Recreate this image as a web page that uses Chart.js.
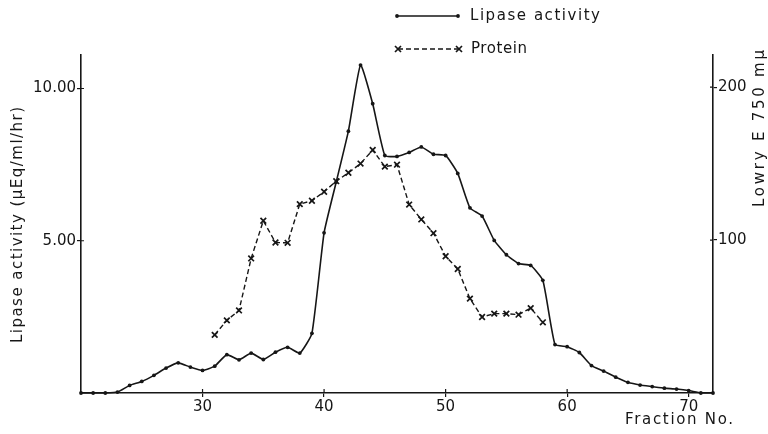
<!DOCTYPE html>
<html>
<head>
<meta charset="utf-8">
<script src="https://cdn.jsdelivr.net/npm/chart.js@4"></script>
<style>
  html, body { margin: 0; padding: 0; background: #fff; }
  #wrap { width: 768px; height: 434px; }
</style>
</head>
<body>
<div id="wrap"><canvas id="lipaseChart" width="768" height="434"></canvas></div>
<script>
// fraction numbers and values
const lipaseFractions = [20, 21, 22, 23, 24, 25, 26, 27, 28, 29, 30, 31, 32, 33, 34, 35, 36, 37, 38, 39,
    40, 41, 42, 43, 44, 45, 46, 47, 48, 49, 50, 51, 52, 53, 54, 55, 56, 57, 58, 59,
    60, 61, 62, 63, 64, 65, 66, 67, 68, 69, 70, 71, 72];
const lipaseActivity = [0, 0, 0, 0.03, 0.25, 0.38, 0.58, 0.82, 0.99, 0.85, 0.74, 0.88, 1.26, 1.09, 1.31, 1.10, 1.34, 1.50, 1.31, 1.96,
    5.26, 6.93, 8.60, 10.77, 9.50, 7.80, 7.77, 7.90, 8.08, 7.84, 7.80, 7.21, 6.08, 5.81, 5.01, 4.54, 4.25, 4.19, 3.70, 1.59,
    1.52, 1.33, 0.90, 0.72, 0.52, 0.35, 0.26, 0.21, 0.16, 0.13, 0.08, 0, 0];

const proteinFractions = [31, 32, 33, 34, 35, 36, 37, 38, 39, 40, 41, 42, 43, 44, 45, 46, 47, 48, 49, 50,
    51, 52, 53, 54, 55, 56, 57, 58];
const proteinLowry = [38, 47.5, 54, 88, 112.6, 98.4, 98.2, 123.5, 125.7, 131.6, 138.5, 144, 150, 158.9, 148, 149.3, 123.2, 113.5, 104.5, 89.4,
    81.1, 61.7, 49.7, 51.9, 51.9, 51.2, 55.5, 46.2];

const xTicks = [30, 40, 50, 60, 70];
const leftTicks = [5, 10];
const rightTicks = [100, 200];

const ink = '#161616';
const fontFamily = "'DejaVu Sans', sans-serif";

// draw text so that it spans a given length (the original uses wide letter spacing)
function fitText(ctx, text, x, y, width, angle) {
    ctx.save();
    ctx.translate(x, y);
    ctx.rotate(angle);
    ctx.letterSpacing = '0px';
    const w = ctx.measureText(text).width;
    ctx.letterSpacing = ((width - w) / (text.length - 1)) + 'px';
    ctx.textAlign = 'left';
    ctx.textBaseline = 'middle';
    ctx.fillText(text, 0, 0);
    ctx.restore();
}

const labelsPlugin = {
    id: 'labels',
    afterDraw(chart) {
        const ctx = chart.ctx;
        const area = chart.chartArea;
        ctx.save();
        ctx.fillStyle = ink;
        ctx.strokeStyle = ink;
        ctx.font = '15px ' + fontFamily;

        // tick marks also reach a little inside the plot, as in the original
        ctx.lineWidth = 1.2;
        ctx.beginPath();
        xTicks.forEach(v => {
            const px = chart.scales.x.getPixelForValue(v);
            ctx.moveTo(px, area.bottom);
            ctx.lineTo(px, area.bottom - 4);
        });
        leftTicks.forEach(v => {
            const py = chart.scales.y.getPixelForValue(v);
            ctx.moveTo(area.left, py);
            ctx.lineTo(area.left + 3, py);
        });
        rightTicks.forEach(v => {
            const py = chart.scales.y1.getPixelForValue(v);
            ctx.moveTo(area.right, py);
            ctx.lineTo(area.right - 3, py);
        });
        ctx.stroke();

        // axis titles
        fitText(ctx, 'Lipase activity (\u03BCEq/ml/hr)', 18, 343, 236, -Math.PI / 2);
        fitText(ctx, 'Lowry E 750 m\u03BC', 760, 207, 157, -Math.PI / 2);
        fitText(ctx, 'Fraction No.', 625, 420, 108, 0);

        // legend
        ctx.lineWidth = 1.5;
        ctx.setLineDash([]);
        ctx.beginPath();
        ctx.moveTo(397, 16);
        ctx.lineTo(458, 16);
        ctx.stroke();
        [397, 458].forEach(x => {
            ctx.beginPath();
            ctx.arc(x, 16, 1.9, 0, Math.PI * 2);
            ctx.fill();
        });
        fitText(ctx, 'Lipase activity', 470, 16, 130, 0);

        ctx.lineWidth = 1.4;
        ctx.setLineDash([5, 3]);
        ctx.beginPath();
        ctx.moveTo(398, 49);
        ctx.lineTo(459, 49);
        ctx.stroke();
        ctx.setLineDash([]);
        ctx.lineWidth = 1.7;
        [398, 459].forEach(x => {
            ctx.beginPath();
            ctx.moveTo(x - 3, 46); ctx.lineTo(x + 3, 52);
            ctx.moveTo(x + 3, 46); ctx.lineTo(x - 3, 52);
            ctx.stroke();
        });
        fitText(ctx, 'Protein', 471, 49, 56, 0);
        ctx.restore();
    }
};

const ctx = document.getElementById('lipaseChart').getContext('2d');
const lipaseChart = new Chart(ctx, {
    type: 'line',
    data: {
        datasets: [{
            label: 'Lipase activity',
            data: lipaseFractions.map((f, i) => ({ x: f, y: lipaseActivity[i] })),
            yAxisID: 'y',
            borderColor: ink,
            borderWidth: 1.6,
            pointRadius: 1.9,
            pointBackgroundColor: ink,
            pointBorderWidth: 0,
            tension: 0.15,
            fill: false,
            clip: false
        }, {
            label: 'Protein',
            data: proteinFractions.map((f, i) => ({ x: f, y: proteinLowry[i] })),
            yAxisID: 'y1',
            borderColor: ink,
            borderWidth: 1.4,
            borderDash: [5, 3],
            pointStyle: 'crossRot',
            pointRadius: 4,
            pointBorderWidth: 1.7,
            pointBorderColor: ink,
            tension: 0,
            fill: false
        }]
    },
    options: {
        responsive: false,
        animation: false,
        layout: { padding: { top: 55, left: 0, right: 0, bottom: 0 } },
        plugins: {
            legend: { display: false },
            tooltip: { enabled: false }
        },
        scales: {
            x: {
                type: 'linear',
                min: 20,
                max: 72,
                afterBuildTicks: scale => { scale.ticks = xTicks.map(v => ({ value: v })); },
                afterFit: scale => { scale.height = 41; },
                grid: { drawOnChartArea: false, tickLength: 4, color: ink, lineWidth: 1.2 },
                border: { display: true, color: ink, width: 1.6 },
                ticks: { color: ink, padding: 1, font: { family: fontFamily, size: 15 } }
            },
            y: {
                position: 'left',
                min: 0,
                max: 11.1,
                afterBuildTicks: scale => { scale.ticks = leftTicks.map(v => ({ value: v })); },
                afterFit: scale => { scale.width = 81; },
                grid: { drawOnChartArea: false, tickLength: 4, color: ink, lineWidth: 1.2 },
                border: { display: true, color: ink, width: 1.6 },
                ticks: {
                    color: ink, padding: 1, font: { family: fontFamily, size: 15 },
                    callback: value => value.toFixed(2)
                }
            },
            y1: {
                position: 'right',
                min: 0,
                max: 221,
                afterBuildTicks: scale => { scale.ticks = rightTicks.map(v => ({ value: v })); },
                afterFit: scale => { scale.width = 55; },
                grid: { drawOnChartArea: false, tickLength: 4, color: ink, lineWidth: 1.2 },
                border: { display: true, color: ink, width: 1.6 },
                ticks: { color: ink, padding: 1, font: { family: fontFamily, size: 15 } }
            }
        }
    },
    plugins: [labelsPlugin]
});
</script>
</body>
</html>
